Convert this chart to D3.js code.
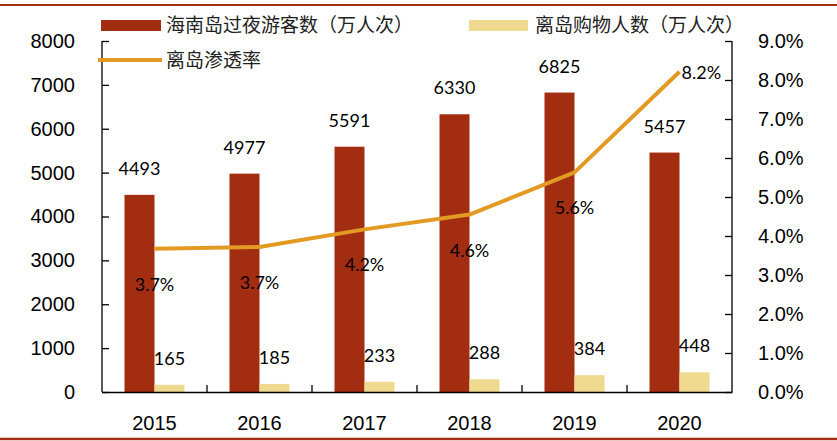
<!DOCTYPE html>
<html><head><meta charset="utf-8">
<script src="https://cdn.jsdelivr.net/npm/d3@7"></script>
<style>body{margin:0;background:#fff}svg{display:block}</style>
</head><body>
<svg id="c" width="837" height="441"></svg>
<script>
const years = ["2015","2016","2017","2018","2019","2020"];
const visitors = [4493, 4977, 5591, 6330, 6825, 5457];
const shoppers = [165, 185, 233, 288, 384, 448];
const rate = [3.67, 3.72, 4.17, 4.55, 5.63, 8.21];
const rateLabels = ["3.7%","3.7%","4.2%","4.6%","5.6%","8.2%"];
const leftTicks = [0,1000,2000,3000,4000,5000,6000,7000,8000];
const rightTicks = [0,1,2,3,4,5,6,7,8,9];
const legendNames = ["海南岛过夜游客数（万人次）","离岛购物人数（万人次）","离岛渗透率"];

const RED = "#A32D10", YEL = "#EFD98E", ORG = "#E39A22";
const svg = d3.select("#c");
const L = 102, R = 732, T = 41, B = 392;

const x = d3.scaleBand().domain(years).range([L, R]).paddingInner(0).paddingOuter(0);
const yL = d3.scaleLinear().domain([0, 8000]).range([B, T]);
const yR = d3.scaleLinear().domain([0, 9]).range([B, T]);
const bw = 30;

// border lines
svg.append("line").attr("x1",0).attr("x2",837).attr("y1",5).attr("y2",5).attr("stroke",RED).attr("stroke-width",2);
svg.append("line").attr("x1",0).attr("x2",837).attr("y1",439).attr("y2",439).attr("stroke",RED).attr("stroke-width",2.5);

// bars
svg.selectAll(".bv").data(visitors).join("rect")
  .attr("x",(d,i)=>x(years[i])+x.bandwidth()/2-bw).attr("width",bw)
  .attr("y",d=>yL(d)).attr("height",d=>B-yL(d)).attr("fill",RED);
svg.selectAll(".bs").data(shoppers).join("rect")
  .attr("x",(d,i)=>x(years[i])+x.bandwidth()/2).attr("width",bw)
  .attr("y",d=>yL(d)).attr("height",d=>B-yL(d)).attr("fill",YEL);

// axes
const axL = d3.axisLeft(yL).tickValues(leftTicks).tickSize(-7).tickPadding(27).tickFormat(d3.format("d"));
const gL = svg.append("g").attr("transform",`translate(${L},0)`).call(axL);
const axR = d3.axisRight(yR).tickValues(rightTicks).tickSize(-7).tickPadding(26).tickFormat(d=>d.toFixed(1)+"%");
const gR = svg.append("g").attr("transform",`translate(${R},0)`).call(axR);
const axB = d3.axisBottom(x).tickSize(0).tickPadding(24);
const gB = svg.append("g").attr("transform",`translate(0,${B})`).call(axB);
[gL,gR,gB].forEach(g=>{
  g.select(".domain").attr("stroke","#000").attr("stroke-width",1.3);
  g.selectAll(".tick line").attr("stroke","#000").attr("stroke-width",1.3);
  g.selectAll("text").attr("font-family","'Liberation Sans', Arial, sans-serif").attr("font-size",20).attr("fill","#000");
});
gL.select(".domain").attr("d",`M0,${T}V${B}`);
gR.select(".domain").attr("d",`M0,${T}V${B}`);
// category boundary ticks
svg.selectAll(".ct").data(years.slice(1)).join("line")
  .attr("x1",d=>x(d)).attr("x2",d=>x(d)).attr("y1",B).attr("y2",B-7)
  .attr("stroke","#000").attr("stroke-width",1.3);

// line
const line = d3.line().x((d,i)=>x(years[i])+x.bandwidth()/2).y(d=>yR(d));
svg.append("path").datum(rate).attr("d",line).attr("fill","none")
  .attr("stroke",ORG).attr("stroke-width",4).attr("stroke-linejoin","round");

// labels
const lf = "Lato, 'Open Sans', sans-serif", ls = 18;
svg.selectAll(".lv").data(visitors).join("text")
  .attr("x",(d,i)=>x(years[i])+x.bandwidth()/2-bw/2).attr("y",d=>yL(d)-20)
  .attr("text-anchor","middle").attr("font-family",lf).attr("font-size",ls).text(d=>d);
svg.selectAll(".ls").data(shoppers).join("text")
  .attr("x",(d,i)=>x(years[i])+x.bandwidth()/2+bw/2).attr("y",d=>yL(d)-20)
  .attr("text-anchor","middle").attr("font-family",lf).attr("font-size",ls).text(d=>d);
svg.selectAll(".lr").data(rate).join("text")
  .attr("x",(d,i)=>x(years[i])+x.bandwidth()/2 + (i===5?2:0))
  .attr("y",(d,i)=>i===5 ? yR(d)+7 : yR(d)+42)
  .attr("text-anchor",(d,i)=>i===5?"start":"middle")
  .attr("font-family",lf).attr("font-size",ls).text((d,i)=>rateLabels[i]);

// legend
const cf = "'Noto Sans CJK SC', sans-serif";
svg.append("rect").attr("x",101).attr("y",20).attr("width",60).attr("height",11).attr("fill",RED);
svg.append("text").attr("x",166).attr("y",32).attr("font-family",cf).attr("font-size",19).attr("fill","#222").text(legendNames[0]);
svg.append("rect").attr("x",469).attr("y",20).attr("width",59).attr("height",11).attr("fill",YEL);
svg.append("text").attr("x",535).attr("y",32).attr("font-family",cf).attr("font-size",19).attr("fill","#222").text(legendNames[1]);
svg.append("line").attr("x1",98).attr("x2",162).attr("y1",60).attr("y2",60).attr("stroke",ORG).attr("stroke-width",4);
svg.append("text").attr("x",166).attr("y",67).attr("font-family",cf).attr("font-size",19).attr("fill","#222").text(legendNames[2]);
</script>
</body></html>
